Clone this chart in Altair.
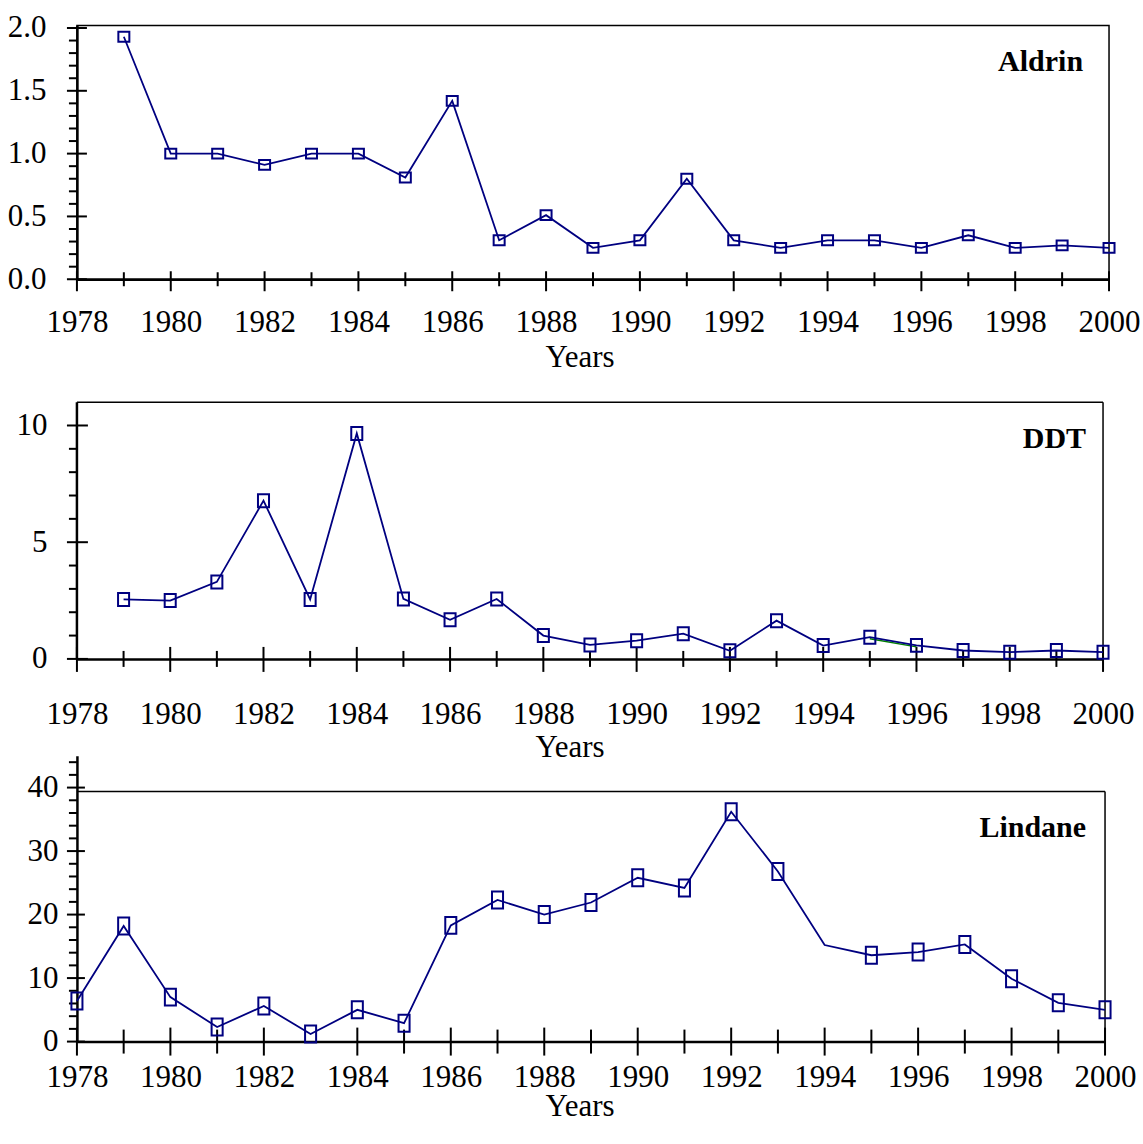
import altair as alt
import pandas as pd

# ---------------------------------------------------------------- data
aldrin_years = [1979, 1980, 1981, 1982, 1983, 1984, 1985, 1986, 1987, 1988, 1989,
                1990, 1991, 1992, 1993, 1994, 1995, 1996, 1997, 1998, 1999, 2000]
aldrin_values = [1.93, 1.0, 1.0, 0.91, 1.0, 1.0, 0.81, 1.42, 0.31, 0.51, 0.25,
                 0.31, 0.80, 0.31, 0.25, 0.31, 0.31, 0.25, 0.35, 0.25, 0.27, 0.25]

ddt_years = [1979, 1980, 1981, 1982, 1983, 1984, 1985, 1986, 1987, 1988, 1989,
             1990, 1991, 1992, 1993, 1994, 1995, 1996, 1997, 1998, 1999, 2000]
ddt_values = [2.55, 2.5, 3.3, 6.78, 2.55, 9.66, 2.57, 1.68, 2.57, 1.0, 0.6,
              0.78, 1.08, 0.35, 1.64, 0.57, 0.93, 0.58, 0.36, 0.29, 0.36, 0.29]
ddt_green_years = [1995, 1996]          # short segment re-drawn in green

lindane_years = [1978, 1979, 1980, 1981, 1982, 1983, 1984, 1985, 1986, 1987, 1988, 1989,
                 1990, 1991, 1992, 1993, 1994, 1995, 1996, 1997, 1998, 1999, 2000]
lindane_values = [6.4, 18.2, 7.0, 2.3, 5.6, 1.2, 5.0, 2.9, 18.3, 22.3, 20.0, 21.9,
                  25.8, 24.2, 36.2, 26.8, 15.2, 13.6, 14.1, 15.3, 9.9, 6.1, 5.0]
lindane_unmarked = [1994]               # vertex drawn without a marker

year_labels = [1978, 1980, 1982, 1984, 1986, 1988, 1990, 1992, 1994, 1996, 1998, 2000]
odd_years = [1979, 1981, 1983, 1985, 1987, 1989, 1991, 1993, 1995, 1997, 1999]

aldrin_major = [0.0, 0.5, 1.0, 1.5, 2.0]
aldrin_minor = [0.1, 0.2, 0.3, 0.4, 0.6, 0.7, 0.8, 0.9, 1.1, 1.2, 1.3, 1.4,
                1.6, 1.7, 1.8, 1.9]
ddt_major = [0, 5, 10]
ddt_minor = [1, 2, 3, 4, 6, 7, 8, 9]
lindane_major = [0, 10, 20, 30, 40]
lindane_minor = [2, 4, 6, 8, 12, 14, 16, 18, 22, 24, 26, 28, 32, 34, 36, 38, 42, 44]

# ---------------------------------------------------------------- style
NAVY = "#000080"
SERIF = "Liberation Serif"
X_DOMAIN = [1978, 2000]
FONT_SIZE = 31


def frame_rules(top, left_axis=False):
    """Box drawn from rules: top edge, right edge and optionally the y-axis line."""
    fdf = pd.DataFrame({"year": [X_DOMAIN[0]], "year_end": [X_DOMAIN[1]],
                        "value": [top], "base": [0]})
    rules = [
        alt.Chart(fdf).mark_rule(color="black", strokeWidth=1.5).encode(
            x="year:Q", x2="year_end:Q", y="value:Q"),
        alt.Chart(fdf).mark_rule(color="black", strokeWidth=1.5).encode(
            x="year_end:Q", y="base:Q", y2="value:Q"),
    ]
    if left_axis:
        rules.append(alt.Chart(fdf).mark_rule(color="black", strokeWidth=2.5).encode(
            x="year:Q", y="base:Q", y2="value:Q"))
    return rules


def panel(name, years, values, marked_years, y_domain, y_major, y_minor, y_fmt,
          odd_ticks, st, extra=None):
    df = pd.DataFrame({"year": years, "value": values})
    marked = df[df["year"].isin(marked_years)]

    x_enc = alt.X(
        "year:Q",
        scale=alt.Scale(domain=X_DOMAIN, nice=False, zero=False),
        axis=alt.Axis(
            values=year_labels, format="d", ticks=False, tickSize=0, grid=False,
            domainColor="black", domainWidth=2.5,
            labelFont=SERIF, labelFontSize=FONT_SIZE, labelColor="black",
            labelBaseline="alphabetic", labelPadding=st["xlab_pad"],
            labelOverlap=False, labelFlush=False,
            title="Years", titleFont=SERIF, titleFontSize=FONT_SIZE,
            titleFontWeight="normal", titleColor="black",
            titleBaseline="alphabetic", titleX=st["title_x"], titleY=st["title_y"],
        ),
    )
    y_enc = alt.Y(
        "value:Q",
        scale=alt.Scale(domain=y_domain, nice=False, zero=False),
        axis=alt.Axis(
            values=y_major, format=y_fmt, ticks=False, tickSize=0, grid=False,
            domain=st.get("y_domain_line", True),
            domainColor="black", domainWidth=2.5,
            labelFont=SERIF, labelFontSize=FONT_SIZE, labelColor="black",
            labelPadding=st["ylab_pad"], labelOverlap=False, labelFlush=False,
            title=None,
        ),
    )

    line = alt.Chart(df).mark_line(color=NAVY, strokeWidth=1.8).encode(x=x_enc, y=y_enc)
    pts = alt.Chart(marked).mark_point(
        shape=st["shape"], size=st["msize"], filled=False, color=NAVY,
        strokeWidth=2, opacity=1,
    ).encode(x="year:Q", y="value:Q")

    # crossing year ticks on the x axis (long on even years, short on odd years)
    even_df = pd.DataFrame({"year": year_labels, "value": [0] * len(year_labels)})
    odd_df = pd.DataFrame({"year": odd_ticks, "value": [0] * len(odd_ticks)})
    xt_even = alt.Chart(even_df).mark_rule(
        color="black", strokeWidth=2, yOffset=-st["even_up"], y2Offset=st["even_dn"]
    ).encode(x="year:Q", y="value:Q", y2="value:Q")
    xt_odd = alt.Chart(odd_df).mark_rule(
        color="black", strokeWidth=2, yOffset=-st["odd_up"], y2Offset=st["odd_dn"]
    ).encode(x="year:Q", y="value:Q", y2="value:Q")

    # y ticks: labelled values cross the axis, minor ones point outward
    maj_df = pd.DataFrame({"value": y_major, "year": [X_DOMAIN[0]] * len(y_major)})
    min_df = pd.DataFrame({"value": y_minor, "year": [X_DOMAIN[0]] * len(y_minor)})
    yt_major = alt.Chart(maj_df).mark_rule(
        color="black", strokeWidth=2, xOffset=-10, x2Offset=st["maj_in"]
    ).encode(x="year:Q", x2="year:Q", y="value:Q")
    yt_minor = alt.Chart(min_df).mark_rule(
        color="black", strokeWidth=2, xOffset=-8, x2Offset=0
    ).encode(x="year:Q", x2="year:Q", y="value:Q")

    label = alt.Chart(pd.DataFrame({"name": [name]})).mark_text(
        align="right", baseline="alphabetic", font=SERIF, fontWeight="bold",
        fontSize=30, color="black",
    ).encode(x=alt.value(st["name_x"]), y=alt.value(st["name_y"]), text="name:N")

    layers = [xt_even, xt_odd, yt_major, yt_minor]
    if extra is not None:
        layers += extra
    layers += [line, pts, label]
    return alt.layer(*layers).properties(width=st["w"], height=st["h"])


# ---------------------------------------------------------------- panels
aldrin = panel(
    "Aldrin", aldrin_years, aldrin_values, aldrin_years, [0, 2.02],
    aldrin_major, aldrin_minor, ".1f", odd_years,
    dict(w=1033, h=254, xlab_pad=52, ylab_pad=31,
         title_x=503, title_y=87,
         shape="M-1,-0.9L1,-0.9L1,0.9L-1,0.9Z", msize=121,
         even_up=8, even_dn=12, odd_up=7, odd_dn=7, maj_in=10,
         name_x=1007, name_y=46),
)

# DDT: the plot area reaches above the box, which is closed at y = 11
ddt_box_top = 11
ddt_df = pd.DataFrame({"year": ddt_years, "value": ddt_values})
ddt_green = alt.Chart(ddt_df[ddt_df["year"].isin(ddt_green_years)]).mark_line(
    color="#008000", strokeWidth=1.4, yOffset=1.5
).encode(x="year:Q", y="value:Q")

ddt = panel(
    "DDT", ddt_years, ddt_values, ddt_years, [0, 12.113],
    ddt_major, ddt_minor, "d", odd_years,
    dict(w=1027, h=283, xlab_pad=65, ylab_pad=30, y_domain_line=False,
         title_x=493, title_y=98,
         shape="M-0.85,-1L0.85,-1L0.85,1L-0.85,1Z", msize=169,
         even_up=12, even_dn=13, odd_up=8, odd_dn=8, maj_in=11,
         name_x=1010, name_y=72),
    extra=frame_rules(ddt_box_top, left_axis=True) + [ddt_green],
).properties(view=alt.ViewBackground(stroke="transparent"))

# Lindane: the box stops just under 40 while the y axis runs on above it
lindane_box_top = 39.4
lindane_marked = [y for y in lindane_years if y not in lindane_unmarked]
lindane_odd = [y for y in odd_years if y != 1983]
lindane = panel(
    "Lindane", lindane_years, lindane_values, lindane_marked, [0, 45],
    lindane_major, lindane_minor, "d", lindane_odd,
    dict(w=1029, h=286, xlab_pad=45, ylab_pad=19,
         title_x=503, title_y=74,
         shape="M-0.65,-1L0.65,-1L0.65,1L-0.65,1Z", msize=289,
         even_up=14, even_dn=14, odd_up=12, odd_dn=12, maj_in=8,
         name_x=1010, name_y=81),
    extra=frame_rules(lindane_box_top),
).properties(view=alt.ViewBackground(stroke="transparent"))

chart = (
    alt.vconcat(aldrin, ddt, lindane, spacing=97, bounds="flush")
    .properties(padding={"left": 6, "top": 10, "right": 2, "bottom": 2},
                background="white")
    .configure_view(stroke="black", strokeWidth=1.5)
)

chart.save("out.html", embed_options={"renderer": "svg", "actions": False})
